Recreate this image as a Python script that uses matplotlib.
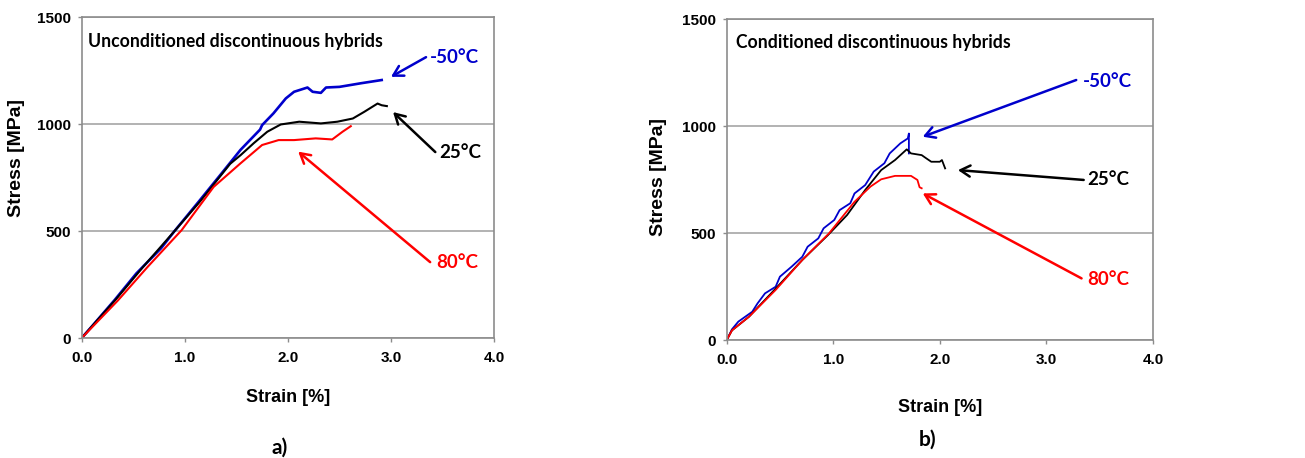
import matplotlib
matplotlib.use("Agg")
import matplotlib.pyplot as plt

# ---------------- data ----------------
# (a) Unconditioned discontinuous hybrids
strain_u_m50 = [0, 0.10, 0.32, 0.53, 0.77, 0.90, 1.13, 1.34, 1.54, 1.73, 1.75, 1.86, 1.98, 2.06, 2.19, 2.24, 2.32, 2.37, 2.50, 2.71, 2.91]
stress_u_m50 = [0, 55, 178, 302, 420, 500, 635, 760, 880, 975, 996, 1051, 1121, 1152, 1172, 1152, 1147, 1172, 1175, 1192, 1207]
strain_u_25 = [0, 0.10, 0.33, 0.60, 0.90, 1.15, 1.44, 1.54, 1.67, 1.80, 1.93, 2.11, 2.32, 2.48, 2.63, 2.74, 2.87, 2.91, 2.96]
stress_u_25 = [0, 55, 180, 335, 500, 640, 815, 855, 912, 965, 999, 1012, 1004, 1012, 1027, 1058, 1097, 1089, 1085]
strain_u_80 = [0, 0.10, 0.35, 0.64, 0.97, 1.28, 1.54, 1.75, 1.91, 2.06, 2.27, 2.43, 2.53, 2.61]
stress_u_80 = [0, 50, 175, 333, 505, 707, 817, 903, 926, 926, 934, 929, 965, 991]

# (b) Conditioned discontinuous hybrids
strain_c_m50 = [0, 0.01, 0.05, 0.11, 0.24, 0.29, 0.36, 0.46, 0.50, 0.61, 0.71, 0.76, 0.86, 0.91, 1.01, 1.06, 1.16, 1.20, 1.30, 1.38, 1.48, 1.53, 1.63, 1.70, 1.71, 1.71]
stress_c_m50 = [0, 8, 50, 86, 132, 171, 218, 249, 296, 343, 389, 436, 475, 522, 561, 607, 639, 685, 724, 787, 826, 872, 919, 942, 965, 872]
strain_c_25 = [0, 0.05, 0.21, 0.45, 0.71, 0.95, 1.13, 1.30, 1.45, 1.58, 1.69, 1.73, 1.83, 1.87, 1.92, 2.00, 2.02, 2.05]
stress_c_25 = [0, 45, 109, 235, 374, 490, 584, 701, 794, 841, 891, 872, 864, 850, 833, 833, 841, 802]
strain_c_80 = [0, 0.01, 0.05, 0.21, 0.46, 0.71, 0.96, 1.20, 1.35, 1.45, 1.58, 1.73, 1.79, 1.81, 1.83]
stress_c_80 = [0, 8, 45, 109, 234, 374, 498, 646, 717, 751, 767, 767, 748, 714, 709]

x_ticks = [0.0, 1.0, 2.0, 3.0, 4.0]
y_ticks = [0, 500, 1000, 1500]
temp_labels = ["-50°C", "25°C", "80°C"]
panel_titles = ["Unconditioned discontinuous hybrids", "Conditioned discontinuous hybrids"]
panel_tags = ["a)", "b)"]

BLUE = "#0000CC"
RED = "#FF0000"
BLACK = "#000000"
colors = [BLUE, BLACK, RED]

# annotation layout: (label xy, arrow tail, arrow tip) per curve, in data coords
ann_u = [((3.62, 1314), (3.34, 1314), (3.00, 1222)),
         ((3.67, 870), (3.43, 870), (3.02, 1057)),
         ((3.64, 355), (3.38, 355), (2.10, 872))]
ann_c = [((3.57, 1210), (3.28, 1215), (1.84, 950)),
         ((3.58, 751), (3.35, 748), (2.17, 794)),
         ((3.58, 284), (3.33, 288), (1.84, 685))]

TICKFONT = "Liberation Sans"
TEXTFONT = "Lato"

fig = plt.figure(figsize=(13.05, 4.58), dpi=100)
ax1 = fig.add_axes([0.0626, 0.262, 0.316, 0.700])
ax2 = fig.add_axes([0.5568, 0.2576, 0.3267, 0.7009])

panels = [
    (ax1, [(strain_u_m50, stress_u_m50), (strain_u_25, stress_u_25), (strain_u_80, stress_u_80)], ann_u, -0.186, -0.157, 0.561),
    (ax2, [(strain_c_m50, stress_c_m50), (strain_c_25, stress_c_25), (strain_c_80, stress_c_80)], ann_c, -0.211, -0.160, 0.509),
]

for i, (ax, series, anns, xl_y, yl_x, yl_y) in enumerate(panels):
    ax.set_xlim(0, 4)
    ax.set_ylim(0, 1500)
    ax.set_xticks(x_ticks)
    ax.set_yticks(y_ticks)
    ax.set_xticklabels([f"{v:.1f}" for v in x_ticks])
    ax.set_yticklabels([str(v) for v in y_ticks])
    for lab in ax.get_xticklabels() + ax.get_yticklabels():
        lab.set_fontfamily(TICKFONT)
        lab.set_fontweight("bold")
        lab.set_fontsize(11)
    ax.tick_params(direction="out", length=3, width=1, color="#8C8C8C", pad=5)
    ax.tick_params(axis="x", pad=6)
    for sp in ax.spines.values():
        sp.set_color("#8C8C8C")
        sp.set_linewidth(1.2)
    ax.yaxis.grid(True, color="#A6A6A6", linewidth=1.2)
    ax.set_axisbelow(True)

    # curves
    for (xs, ys), c in zip(series, colors):
        lw = 1.3
        if i == 0:
            lw = 1.9 if c == BLUE else 1.5
        ax.plot(xs, ys, color=c, linewidth=lw)

    # labels and arrows
    for (lxy, tail, tip), c, t in zip(anns, colors, temp_labels):
        ax.text(lxy[0], lxy[1], t, color=c, fontsize=13.5, fontweight="bold",
                fontfamily=TEXTFONT, ha="center", va="center")
        ax.annotate("", xy=tip, xytext=tail,
                    arrowprops=dict(arrowstyle="->,head_length=0.7,head_width=0.4",
                                    color=c, lw=1.8, shrinkA=0, shrinkB=0))

    ax.text(0.065 if i == 0 else 0.087, 1388, panel_titles[i], fontsize=12.7,
            fontweight="bold", fontfamily=TEXTFONT, ha="left", va="center")

    ax.text(0.5, xl_y, "Strain [%]", transform=ax.transAxes, ha="center", va="center",
            fontsize=13, fontweight="bold", fontfamily=TICKFONT)
    ax.text(yl_x, yl_y, "Stress [MPa]", transform=ax.transAxes, ha="center", va="center",
            rotation=90, fontsize=14, fontweight="bold", fontfamily=TICKFONT)

fig.text(280 / 1305, 1 - 448 / 458, panel_tags[0], fontsize=15, fontfamily=TEXTFONT,
         fontweight="bold", ha="center", va="center")
fig.text(928 / 1305, 1 - 440 / 458, panel_tags[1], fontsize=15, fontfamily=TEXTFONT,
         fontweight="bold", ha="center", va="center")

fig.savefig("out.png", dpi=100, facecolor="white")
